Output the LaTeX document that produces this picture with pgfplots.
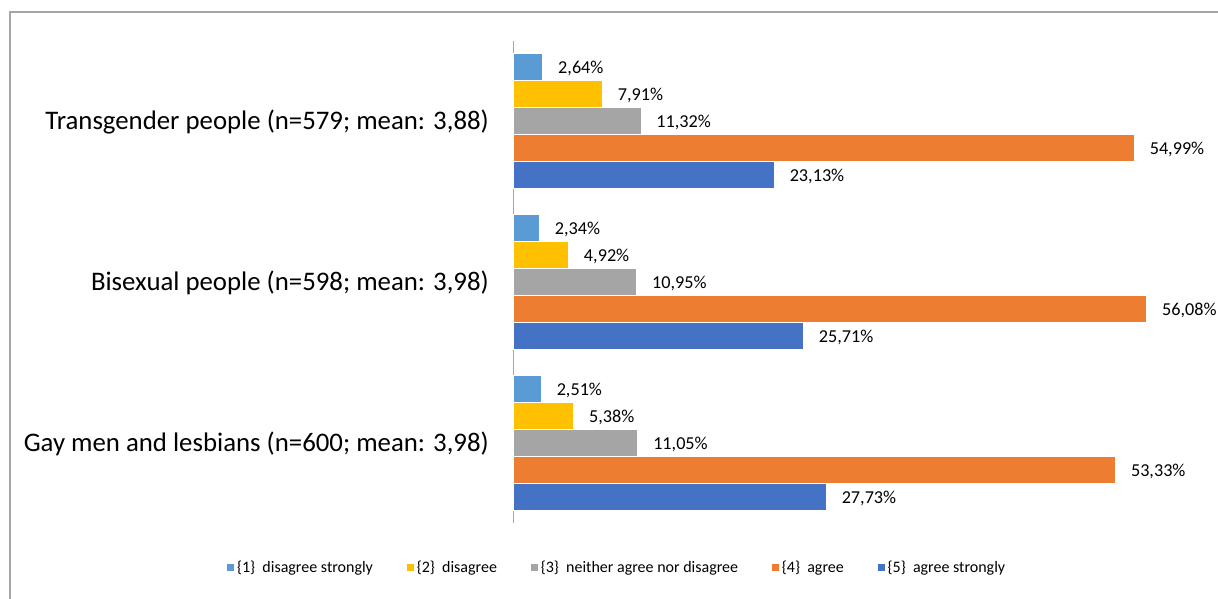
\documentclass[border=0pt]{standalone}
\usepackage{pgfplots}
\pgfplotsset{compat=1.18}
\usepackage{fontspec}
\setmainfont{Carlito}
\definecolor{c1}{HTML}{5B9BD5}
\definecolor{c2}{HTML}{FFC000}
\definecolor{c3}{HTML}{A5A5A5}
\definecolor{c4}{HTML}{ED7D31}
\definecolor{c5}{HTML}{4472C4}
\definecolor{frame}{HTML}{A6A6A6}
\begin{document}
\begin{tikzpicture}[x=1pt,y=1pt]
\useasboundingbox (0,0) rectangle (1218,599);
\fill[white] (0,0) rectangle (1218,599);
\draw[frame, line width=1.5pt] (10,-5) -- (10,587) -- (1225,587);
\begin{axis}[
  at={(513pt,76pt)}, anchor=south west,
  scale only axis, width=678pt, height=482pt,
  xbar, xmin=0, xmax=60, ymin=-0.5, ymax=2.5,
  bar width=0.168,
  axis x line=none,
  axis y line=left,
  y axis line style={-, draw=frame, line width=1pt},
  ytick={0,1,2},
  yticklabels={Gay men and lesbians (n=600; mean: 3{,}98),Bisexual people (n=598; mean: 3{,}98),Transgender people (n=579; mean: 3{,}88)},
  major tick length=0pt,
  yticklabel style={font=\fontsize{26.8}{31}\selectfont, inner sep=0pt, xshift=-24pt, yshift=-1pt},
  /pgf/number format/assume math mode=true,
  nodes near coords={\pgfmathprintnumber[fixed,fixed zerofill,precision=2,use comma]{\pgfplotspointmeta}\%},
  every node near coord/.append style={font=\fontsize{18.2}{21}\selectfont, inner sep=0pt, anchor=west, xshift=15pt, yshift=-1.5pt, text=black},
  legend columns=5,
  legend style={at={(axis description cs:0.153,-0.093)}, anchor=center, draw=none, fill=none,
    font=\fontsize{16}{19}\selectfont,
    /tikz/every even column/.append style={column sep=31pt}},
  legend image code/.code={\fill[#1] (0pt,-4pt) rectangle (8pt,4pt);},
]
\addplot[fill=c1, draw=white, line width=0.8pt, bar shift=0.336] coordinates {(2.51,0) (2.34,1) (2.64,2)};
\addplot[fill=c2, draw=white, line width=0.8pt, bar shift=0.168] coordinates {(5.38,0) (4.92,1) (7.91,2)};
\addplot[fill=c3, draw=white, line width=0.8pt, bar shift=0] coordinates {(11.05,0) (10.95,1) (11.32,2)};
\addplot[fill=c4, draw=white, line width=0.8pt, bar shift=-0.168] coordinates {(53.33,0) (56.08,1) (54.99,2)};
\addplot[fill=c5, draw=white, line width=0.8pt, bar shift=-0.336] coordinates {(27.73,0) (25.71,1) (23.13,2)};
\legend{\{1\}~ disagree strongly,\{2\}~ disagree,\{3\}~ neither agree nor disagree,\{4\}~ agree,\{5\}~ agree strongly}
\end{axis}
\end{tikzpicture}
\end{document}
